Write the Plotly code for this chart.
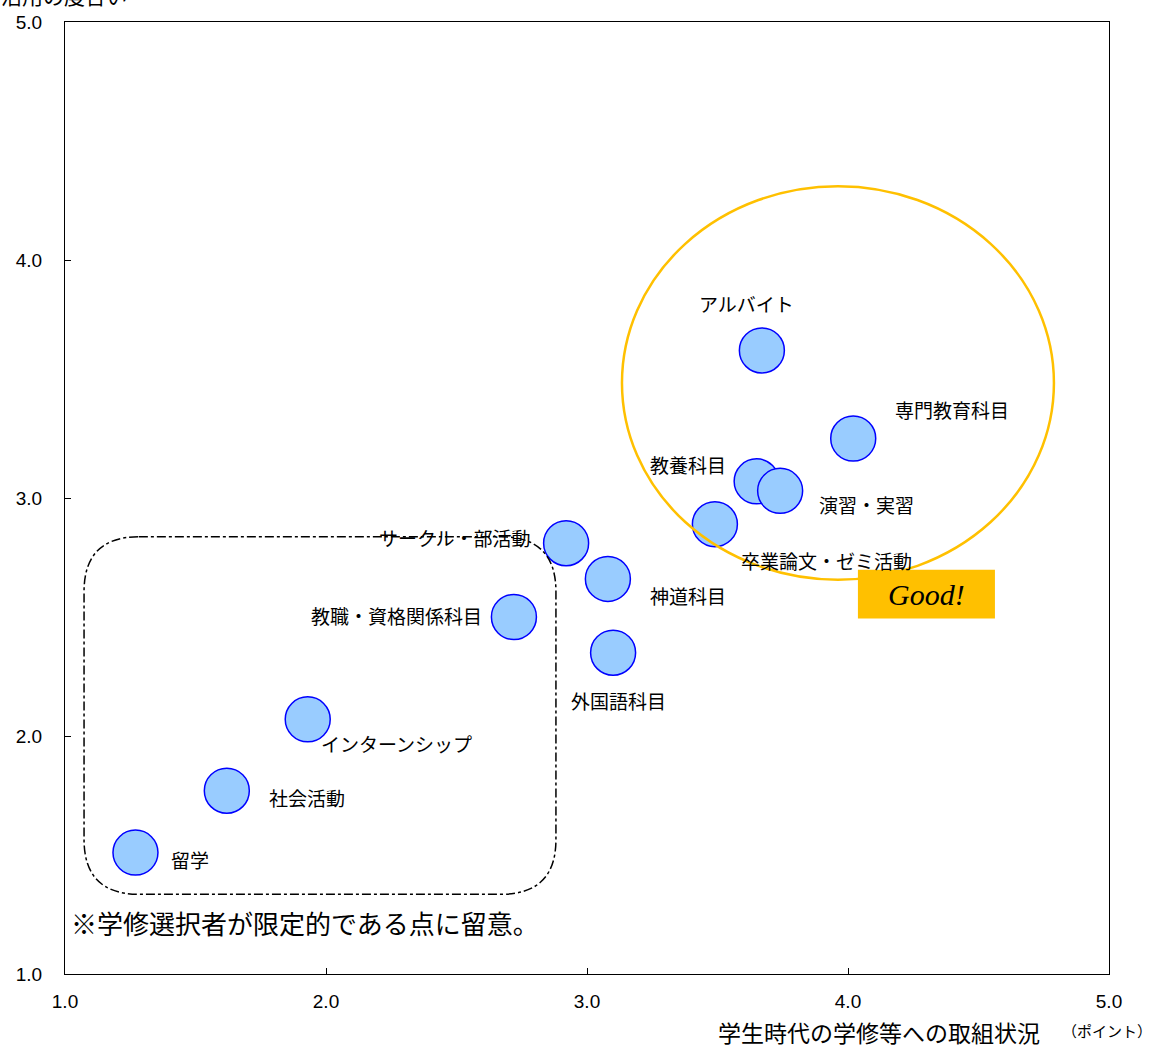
import plotly.graph_objects as go

# ---- data ----
items = ["アルバイト", "専門教育科目", "教養科目", "演習・実習", "卒業論文・ゼミ活動",
         "サークル・部活動", "神道科目", "教職・資格関係科目", "外国語科目",
         "インターンシップ", "社会活動", "留学"]
x_vals = [3.67, 4.02, 3.65, 3.74, 3.49, 2.92, 3.08, 2.72, 3.10, 1.93, 1.62, 1.27]
y_vals = [3.62, 3.25, 3.07, 3.03, 2.89, 2.81, 2.66, 2.50, 2.35, 2.07, 1.77, 1.51]
tick_vals = [1.0, 2.0, 3.0, 4.0, 5.0]
tick_text = ["1.0", "2.0", "3.0", "4.0", "5.0"]

# label pixel offsets (style only)
label_dx = [-15, 99, -69, 86, 112, -112, 80, -117, 5, 89, 80, 55]
label_dy = [47, 29, 17, -14, -36, 6, -17, 2, -48, -24, -7, -7]

JP = "Noto Sans CJK JP"
LAT = "Liberation Sans, Arial"

fig = go.Figure()
fig.add_trace(go.Scatter(
    x=x_vals, y=y_vals, mode="markers",
    marker=dict(size=45, color="#99CCFF", line=dict(color="#0000FF", width=1.5)),
    hoverinfo="text", text=items, showlegend=False, cliponaxis=False))

for name, xv, yv, dx, dy in zip(items, x_vals, y_vals, label_dx, label_dy):
    fig.add_annotation(x=xv, y=yv, xref="x", yref="y", text=name, showarrow=False,
                       xshift=dx, yshift=dy, font=dict(family=JP, size=19, color="#000000"))

shapes = []
# orange ellipse
shapes.append(dict(type="circle", xref="x", yref="y", x0=3.134, x1=4.789, y0=2.657, y1=4.310,
                   line=dict(color="#FFC000", width=2.5), layer="above"))
# rounded dash-dot box
bx0, bx1, by0, by1 = 1.073, 2.881, 1.335, 2.837
rx, ry = 0.21, 0.23
path = (f"M {bx0+rx},{by1} L {bx1-rx},{by1} Q {bx1},{by1} {bx1},{by1-ry} "
        f"L {bx1},{by0+ry} Q {bx1},{by0} {bx1-rx},{by0} "
        f"L {bx0+rx},{by0} Q {bx0},{by0} {bx0},{by0+ry} "
        f"L {bx0},{by1-ry} Q {bx0},{by1} {bx0+rx},{by1} Z")
shapes.append(dict(type="path", xref="x", yref="y", path=path,
                   line=dict(color="#000000", width=1.5, dash="dashdot"), layer="above"))
# Good! box
shapes.append(dict(type="rect", xref="x", yref="y", x0=4.038, x1=4.563, y0=2.494, y1=2.699,
                   fillcolor="#FFC000", line=dict(width=0), layer="above"))
fig.update_layout(shapes=shapes)

fig.add_annotation(x=(4.038 + 4.563) / 2, y=(2.494 + 2.699) / 2, xref="x", yref="y",
                   text="<i>Good!</i>", showarrow=False,
                   font=dict(family="Liberation Serif, Times New Roman", size=30, color="#000000"))

fig.add_annotation(x=1.015, y=1.218, xref="x", yref="y", xanchor="left",
                   text="※学修選択者が限定的である点に留意。",
                   showarrow=False, font=dict(family=JP, size=26, color="#000000"))

# axis titles
fig.add_annotation(xref="paper", yref="paper", x=1.0, y=0, xanchor="right", yanchor="middle",
                   xshift=-68, yshift=-58, borderpad=0, text="学生時代の学修等への取組状況",
                   showarrow=False, font=dict(family=JP, size=23, color="#000000"))
fig.add_annotation(xref="paper", yref="paper", x=1.0, y=0, xanchor="left", yanchor="middle",
                   xshift=-48, yshift=-56, borderpad=0, text="（ポイント）", showarrow=False,
                   font=dict(family=JP, size=15, color="#000000"))
fig.add_annotation(xref="paper", yref="paper", x=0, y=1, xanchor="left", yanchor="bottom",
                   xshift=-66, yshift=10, text="活用の度合い", showarrow=False,
                   font=dict(family=JP, size=21, color="#000000"))

axis_common = dict(range=[1.0, 5.0], tickvals=tick_vals, ticktext=tick_text,
                   showgrid=False, zeroline=False, showline=True, linecolor="#000000",
                   linewidth=1, mirror=True, ticks="inside", ticklen=6, tickcolor="#000000",
                   tickfont=dict(family=LAT, size=19, color="#000000"))
fig.update_xaxes(**axis_common, ticklabelstandoff=10)
fig.update_yaxes(**axis_common, ticklabelstandoff=18)

fig.update_layout(width=1153, height=1046, margin=dict(l=65, r=44, t=18, b=72),
                  plot_bgcolor="#FFFFFF", paper_bgcolor="#FFFFFF", showlegend=False)

fig.write_html("out.html")
